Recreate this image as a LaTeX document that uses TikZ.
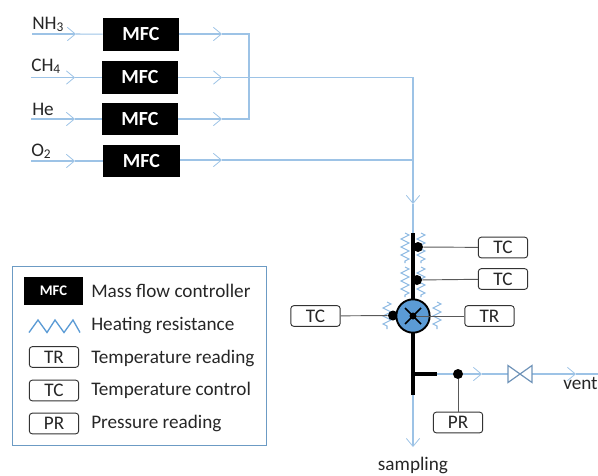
\documentclass[tikz,border=0pt]{standalone}
\usepackage{fontspec}
\setmainfont{Carlito}
\usetikzlibrary{arrows.meta,decorations.pathmorphing}
\definecolor{pipe}{HTML}{9DC3E6}
\definecolor{frameblue}{HTML}{6C9BC4}
\definecolor{heat}{HTML}{8DB9E2}
\definecolor{valvefill}{HTML}{5B9BD5}
\definecolor{sigline}{HTML}{595959}
\definecolor{valveline}{HTML}{6F93B8}
\tikzset{
  flow/.style={draw=pipe,line width=0.8pt},
  flowtip/.style={flow,-{Straight Barb[length=6pt,width=10pt,line width=0.6pt]}},
  mfcbox/.style={fill=black,text=white,inner sep=0pt,font=\fontsize{15}{17}\selectfont\bfseries},
  mfcsmall/.style={mfcbox,font=\fontsize{11}{13}\selectfont\bfseries},
  tag/.style={draw=black!80,rounded corners=2.2pt,line width=0.7pt,fill=white,inner sep=0pt,minimum width=37pt,minimum height=15.5pt,font=\fontsize{14.4}{16}\selectfont,text=black!85},
  lbl/.style={anchor=base west,inner sep=0pt,font=\fontsize{14.4}{16}\selectfont,text=black!85},
  heater/.style={draw=heat,line width=0.8pt,decorate,decoration={zigzag,segment length=6pt,amplitude=3pt}},
  sig/.style={draw=sigline,line width=0.7pt},
  thick pipe/.style={draw=black,line width=2.3pt},
  dotn/.style={circle,fill=black,inner sep=0pt,minimum size=7.5pt},
}
\begin{document}
\begin{tikzpicture}[x=0.75pt,y=-0.75pt]
\useasboundingbox (0,0) rectangle (598,475);
% gas labels
\node[lbl] (lnh) at (32,29) {NH\textsubscript{3}};
\node[lbl] (lch) at (31,71) {CH\textsubscript{4}};
\node[lbl] (lhe) at (32,115) {He};
\node[lbl] (lox) at (31,156) {O\textsubscript{2}};
% MFCs
\node[mfcbox,minimum width=57pt,minimum height=25pt] (m1) at (141,34.5) {MFC};
\node[mfcbox,minimum width=57pt,minimum height=25pt] (m2) at (140,77.5) {MFC};
\node[mfcbox,minimum width=57pt,minimum height=24.5pt] (m3) at (140,119) {MFC};
\node[mfcbox,minimum width=57.5pt,minimum height=24.5pt] (m4) at (141.5,161) {MFC};
% inlets
\coordinate (i1) at (32,34); \coordinate (t1) at (76,34);
\coordinate (i2) at (31,77.5); \coordinate (t2) at (75,77.5);
\coordinate (i3) at (31,119); \coordinate (t3) at (75,119);
\coordinate (i4) at (31,161); \coordinate (t4) at (75,161);
\foreach \k in {1,2,3,4}{
  \draw[flowtip] (i\k) -- (t\k);
  \draw[flow] (t\k) -- (m\k);
}
% outlets
\coordinate (o1) at (222,34); \coordinate (o2) at (222,77.5);
\coordinate (o3) at (222,119); \coordinate (o4) at (222,160);
\coordinate (c1) at (249,34); \coordinate (c3) at (249,119);
\coordinate (j2) at (413,77.5); \coordinate (j4) at (413,160);
\coordinate (down) at (413,204);
\foreach \k in {1,2,3,4}{\draw[flowtip] (m\k.east|-o\k) -- (o\k);}
\draw[flow] (o1) -- (c1) -- (c3) -- (o3);
\draw[flow] (o2) -- (j2) -- (j4);
\draw[flow] (o4) -- (j4);
\draw[flowtip] (j4) -- (down);
% reactor
\coordinate (vt) at (413,233);
\coordinate (vb) at (413,395);
\coordinate (vc) at (413,316);
\draw[flow] (down) -- (vt);
% heaters
\coordinate (h1a) at (405,233); \coordinate (h1b) at (405,263);
\coordinate (h2a) at (405,267); \coordinate (h2b) at (405,297);
\coordinate (h3a) at (421,233); \coordinate (h3b) at (421,263);
\coordinate (h4a) at (421,267); \coordinate (h4b) at (421,297);
\coordinate (h5a) at (387,302); \coordinate (h5b) at (387,329);
\coordinate (h6a) at (437,302); \coordinate (h6b) at (437,329);
\foreach \k in {1,...,6}{\draw[heater] (h\k a) -- (h\k b);}
% tags
\node[tag] (tc1) at (503,247.5) {TC};
\node[tag] (tc2) at (503,279) {TC};
\node[tag] (tc3) at (315.5,316) {TC};
\node[tag] (tr1) at (489.5,316) {TR};
\node[tag] (pr1) at (458,422.5) {PR};
% dots and signal lines
\node[dotn] (d1) at (418,247) {};
\node[dotn] (d2) at (417,280) {};
\node[dotn] (d3) at (393,315.5) {};
\node[dotn] (d4) at (458,374) {};
\draw[sig] (d1) -- (tc1);
\draw[sig] (d2) -- (tc2);
\draw[sig] (tc3) -- (d3);
\draw[sig] (d4) -- (pr1);
% vessel
\coordinate (br) at (413,374);
\coordinate (bre) at (437,374);
\draw[flowtip] (vb) -- (413,447);
\draw[thick pipe] (vt) -- (vb);
\draw[thick pipe] (br) -- (bre);
\node[circle,draw=black,fill=valvefill,line width=1.4pt,minimum size=25pt,inner sep=0pt] (valve) at (vc) {};
\draw[sig] (vc) -- (tr1);
\draw[draw=black,line width=1.3pt] (405,308) -- (421,324) (405,324) -- (421,308);
\fill[black] (vc) circle (3.5);
\draw[thick pipe] (vb) -- (valve.south);
% vent line
\coordinate (a1) at (482,374);
\coordinate (a2) at (576,374);
\coordinate (vl) at (508,374); \coordinate (vr) at (532,374);
\coordinate (ve) at (598,374);
\draw[flow] (bre) -- (d4);
\draw[flowtip] (d4) -- (a1);
\draw[flow] (a1) -- (vl);
\draw[flowtip] (vr) -- (a2);
\draw[flow] (a2) -- (ve);
\draw[draw=valveline,line width=0.9pt] (508,365.5) -- (532,382.5) -- (532,365.5) -- (508,382.5) -- cycle;
\node[lbl] (vent) at (563,389) {vent};
\node[lbl,anchor=base] (samp) at (413,470) {sampling};
% legend
\node[draw=frameblue,line width=0.9pt,minimum width=191pt,minimum height=134.5pt,inner sep=0pt] (leg) at (139.5,356) {};
\node[mfcsmall,minimum width=44pt,minimum height=21pt] (lm) at (53.5,291) {MFC};
\coordinate (lza) at (29,332.5); \coordinate (lzb) at (80,332.5);
\draw[draw=valvefill,line width=1pt] (lza) -- (38,320) -- (47,332.5) -- (55,320) -- (64,332.5) -- (73,320) -- (lzb);
\node[tag] (lr) at (54,357) {TR};
\node[tag] (lc) at (54,390.5) {TC};
\node[tag] (lp) at (54,423.5) {PR};
\node[lbl] (t1l) at (91,297) {Mass flow controller};
\node[lbl] (t2l) at (91,330) {Heating resistance};
\node[lbl] (t3l) at (91,363) {Temperature reading};
\node[lbl] (t4l) at (91,395) {Temperature control};
\node[lbl] (t5l) at (91,428) {Pressure reading};
\end{tikzpicture}
\end{document}
